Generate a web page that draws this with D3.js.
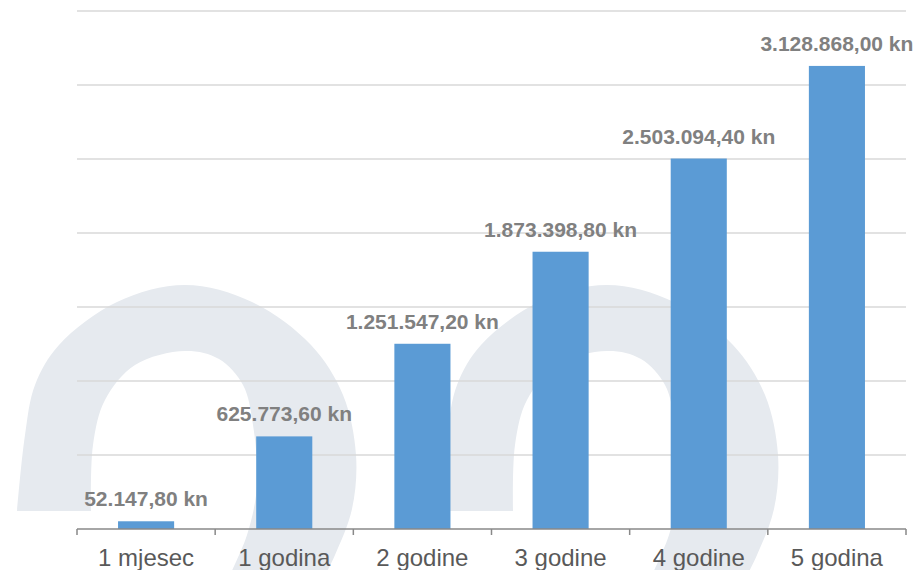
<!DOCTYPE html>
<html>
<head>
<meta charset="utf-8">
<script src="https://cdn.jsdelivr.net/npm/d3@7"></script>
<style>
  body { margin: 0; background: #fff; }
  svg { display: block; font-family: "Liberation Sans", Arial, sans-serif; }
</style>
</head>
<body>
<div id="vis"></div>
<script>
// data
const categories = ["1 mjesec", "1 godina", "2 godine", "3 godine", "4 godine", "5 godina"];
const values = [52147.80, 625773.60, 1251547.20, 1873398.80, 2503094.40, 3128868.00];
const yTicks = [0, 500000, 1000000, 1500000, 2000000, 2500000, 3000000, 3500000];

// frame
const FRAME_WIDTH = 919;
const FRAME_HEIGHT = 570;
const MARGINS = {left: 77, right: 13, top: 11, bottom: 41};
const VIS_WIDTH = FRAME_WIDTH - MARGINS.left - MARGINS.right;
const VIS_HEIGHT = FRAME_HEIGHT - MARGINS.top - MARGINS.bottom;

const SVG = d3.select("#vis")
  .append("svg")
    .attr("width", FRAME_WIDTH)
    .attr("height", FRAME_HEIGHT);

// background watermark (two arches)
const outerPts = [[-168, 226], [-160, 150], [-150, 100], [-126, 60], [-68, 17], [0, 0], [67, 17],
                  [126, 60], [158, 110], [171, 170], [167, 224], [150, 270], [135, 300]];
const innerPts = [[40, 300], [62, 250], [72, 200], [68, 140], [58, 100], [34, 74], [0, 66],
                  [-50, 80], [-80, 115], [-92, 160], [-94, 226]];
const curve = d3.line().curve(d3.curveCatmullRom.alpha(0.5));
const archPath = curve(outerPts) + "L" + curve(innerPts).slice(1) + "Z";

[185, 607].forEach((cx) => {
  SVG.append("path")
    .attr("d", archPath)
    .attr("transform", "translate(" + cx + ",285)")
    .attr("fill", "#e6eaef");
});

const FRAME = SVG.append("g")
  .attr("transform", "translate(" + MARGINS.left + "," + MARGINS.top + ")");

const X_SCALE = d3.scaleBand()
  .domain(categories)
  .range([0, VIS_WIDTH])
  .paddingInner(0.594)
  .paddingOuter(0.297);

const Y_SCALE = d3.scaleLinear()
  .domain([0, d3.max(yTicks)])
  .range([VIS_HEIGHT, 0]);

// gridlines
FRAME.selectAll(".grid")
  .data(yTicks.filter((d) => d > 0))
  .enter()
  .append("line")
    .attr("class", "grid")
    .attr("x1", 0)
    .attr("x2", VIS_WIDTH)
    .attr("y1", (d) => Y_SCALE(d))
    .attr("y2", (d) => Y_SCALE(d))
    .attr("stroke", "#d9d9d9")
    .attr("stroke-width", 1.5);

// bars
FRAME.selectAll(".bar")
  .data(values)
  .enter()
  .append("rect")
    .attr("class", "bar")
    .attr("x", (d, i) => X_SCALE(categories[i]))
    .attr("y", (d) => Y_SCALE(d))
    .attr("width", X_SCALE.bandwidth())
    .attr("height", (d) => VIS_HEIGHT - Y_SCALE(d))
    .attr("fill", "#5b9bd5");

// value labels
const locale = d3.formatLocale({decimal: ",", thousands: ".", grouping: [3], currency: ["", ""]});
const fmt = locale.format(",.2f");

FRAME.selectAll(".val")
  .data(values)
  .enter()
  .append("text")
    .attr("class", "val")
    .attr("x", (d, i) => X_SCALE(categories[i]) + X_SCALE.bandwidth() / 2)
    .attr("y", (d) => Y_SCALE(d) - 15)
    .attr("text-anchor", "middle")
    .attr("font-size", "21px")
    .attr("font-weight", "bold")
    .attr("fill", "#808080")
    .text((d) => fmt(d) + " kn");

// x axis with ticks between categories
const boundaries = categories.map((c) => X_SCALE(c) + X_SCALE.bandwidth() / 2 - X_SCALE.step() / 2)
  .concat([VIS_WIDTH]);

const AXIS = FRAME.append("g")
  .attr("transform", "translate(0," + VIS_HEIGHT + ")");

AXIS.append("line")
  .attr("x1", 0)
  .attr("x2", VIS_WIDTH)
  .attr("stroke", "#898989")
  .attr("stroke-width", 1.5);

AXIS.selectAll(".tick")
  .data(boundaries)
  .enter()
  .append("line")
    .attr("x1", (d) => d)
    .attr("x2", (d) => d)
    .attr("y1", 0)
    .attr("y2", 6)
    .attr("stroke", "#898989")
    .attr("stroke-width", 1.5);

AXIS.selectAll(".lbl")
  .data(categories)
  .enter()
  .append("text")
    .attr("class", "lbl")
    .attr("x", (d) => X_SCALE(d) + X_SCALE.bandwidth() / 2)
    .attr("y", 37)
    .attr("text-anchor", "middle")
    .attr("font-size", "24px")
    .attr("fill", "#595959")
    .text((d) => d);
</script>
</body>
</html>
